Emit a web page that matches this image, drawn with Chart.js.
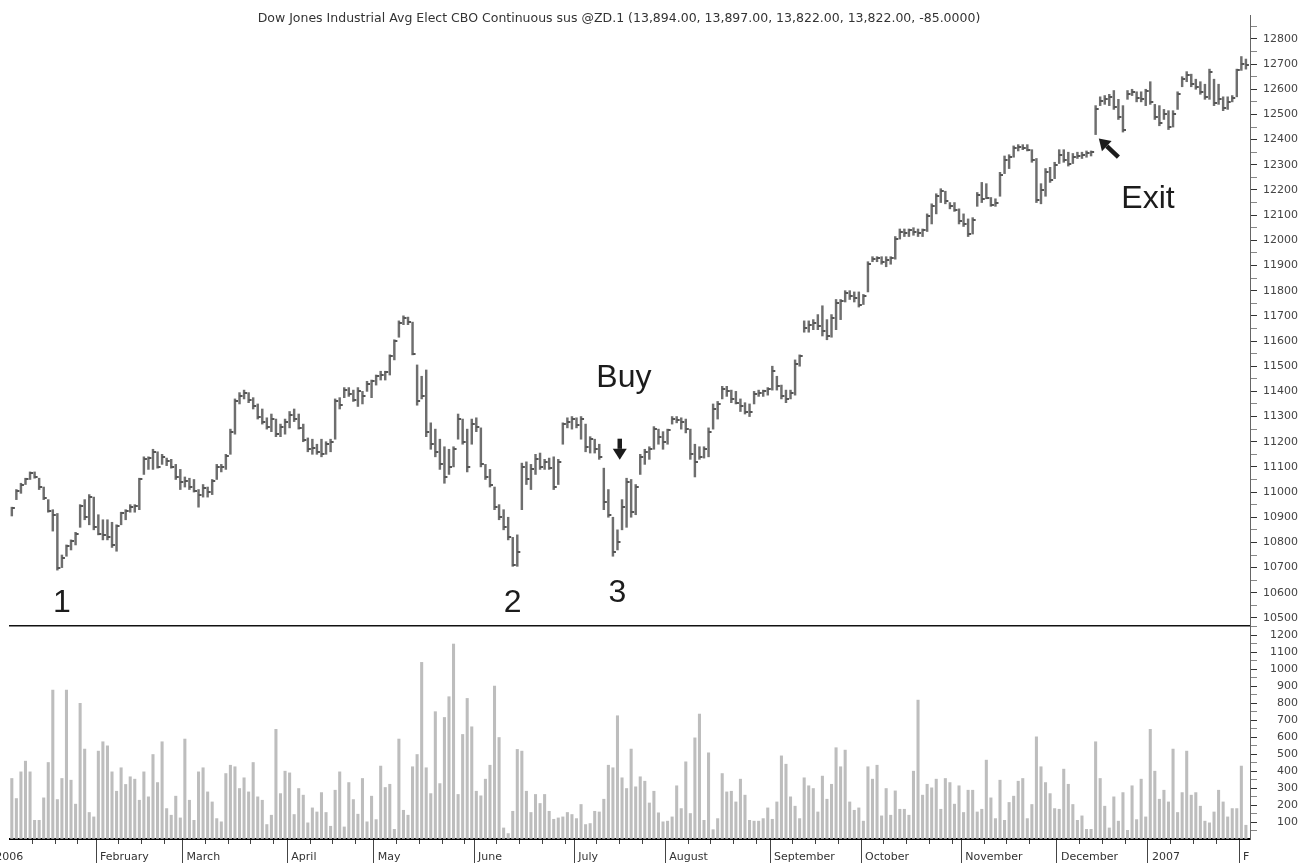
<!DOCTYPE html>
<html>
<head>
<meta charset="utf-8">
<script src="https://cdn.jsdelivr.net/npm/chart.js@4.4.1/dist/chart.umd.min.js"></script>
<style>
  html, body { margin: 0; padding: 0; background: #ffffff; }
  #wrap { position: relative; width: 1311px; height: 864px; overflow: hidden; background: #fff; }
  #title { position: absolute; left: 0; top: 10px; width: 1238px; text-align: center;
           font: 12.5px "DejaVu Sans", sans-serif; color: #333; white-space: nowrap; z-index: 3; }
  #c1 { position: absolute; left: 0; top: 0; }
  #c2 { position: absolute; left: 0; top: 626px; }
</style>
</head>
<body>
<div id="wrap">
  <div id="title">Dow Jones Industrial Avg Elect CBO Continuous sus @ZD.1 (13,894.00, 13,897.00, 13,822.00, 13,822.00, -85.0000)</div>
  <canvas id="c1" width="1311" height="640"></canvas>
  <canvas id="c2" width="1311" height="238"></canvas>
</div>
<script>
// ---------------- DATA (daily bars, 2006-01-04 .. 2007-02-02) ----------------
const highs = [
10940,11010,11035,11055,11080,11080,11055,11020,10970,10930,
10915,10750,10790,10810,10840,10950,10970,10990,10980,10910,
10890,10890,10880,10870,10920,10930,10950,10950,11055,11140,
11140,11170,11160,11150,11135,11130,11110,11090,11060,11055,
11050,11010,11030,11020,11050,11110,11110,11150,11250,11370,
11395,11405,11395,11375,11350,11330,11295,11310,11290,11270,
11290,11320,11330,11310,11270,11215,11210,11190,11210,11200,
11210,11370,11375,11415,11415,11405,11415,11400,11440,11445,
11465,11480,11480,11545,11605,11680,11700,11695,11675,11505,
11460,11485,11275,11250,11210,11180,11170,11180,11310,11290,
11250,11290,11295,11255,11110,11090,11020,10950,10930,10900,
10820,10830,11115,11120,11110,11150,11155,11130,11135,11140,
11130,11275,11295,11300,11295,11300,11270,11220,11210,11190,
11095,11010,10900,10850,10970,11055,11050,11030,11150,11170,
11180,11260,11250,11240,11250,11300,11300,11295,11290,11250,
11190,11180,11180,11255,11350,11360,11420,11420,11405,11400,
11370,11355,11350,11400,11405,11405,11415,11500,11460,11425,
11405,11405,11525,11545,11680,11680,11685,11705,11740,11685,
11705,11765,11765,11800,11800,11795,11795,11785,11915,11935,
11935,11935,11935,11935,12015,12045,12045,12045,12050,12045,
12045,12105,12145,12185,12205,12195,12150,12150,12125,12105,
12085,12090,12190,12230,12225,12170,12165,12270,12335,12340,
12375,12380,12380,12380,12360,12325,12225,12285,12290,12310,
12360,12360,12350,12345,12350,12350,12355,12355,12535,12570,
12575,12580,12595,12560,12535,12595,12600,12590,12590,12600,
12630,12540,12535,12520,12515,12515,12590,12650,12670,12660,
12640,12630,12620,12680,12640,12620,12570,12570,12575,12680,
12730,12720];
const lows = [
10905,10970,10995,11030,11050,11055,11010,10970,10920,10845,
10690,10700,10745,10770,10790,10860,10890,10870,10850,10830,
10810,10810,10780,10765,10870,10890,10920,10920,10930,11070,
11090,11090,11095,11110,11105,11095,11050,11010,11020,11010,
11000,10940,10980,10980,10990,11050,11080,11090,11150,11230,
11350,11370,11355,11330,11290,11270,11250,11240,11220,11220,
11230,11255,11280,11250,11200,11160,11150,11150,11140,11150,
11160,11210,11330,11375,11380,11360,11340,11350,11400,11375,
11425,11445,11445,11465,11525,11615,11665,11665,11545,11345,
11370,11220,11170,11140,11090,11035,11070,11100,11210,11190,
11080,11190,11240,11100,11050,11020,10930,10890,10850,10810,
10705,10705,10930,11030,11010,11070,11090,11090,11090,11010,
11030,11190,11255,11250,11255,11210,11160,11155,11155,11130,
10930,10900,10745,10770,10850,10860,10900,10910,11070,11110,
11130,11170,11190,11170,11190,11270,11275,11250,11235,11130,
11060,11130,11135,11140,11250,11290,11370,11380,11355,11350,
11320,11310,11300,11350,11380,11380,11385,11405,11405,11370,
11355,11370,11385,11500,11635,11635,11645,11645,11620,11605,
11615,11645,11685,11755,11765,11755,11735,11745,11795,11915,
11915,11905,11895,11905,11925,12005,12015,12015,12020,12015,
12015,12035,12065,12105,12150,12145,12125,12115,12065,12055,
12015,12025,12135,12150,12165,12135,12135,12175,12265,12285,
12330,12355,12360,12355,12310,12150,12145,12175,12230,12245,
12305,12310,12295,12305,12325,12325,12330,12335,12420,12535,
12540,12535,12520,12480,12430,12560,12575,12550,12550,12535,
12540,12480,12455,12480,12440,12450,12520,12610,12630,12610,
12600,12580,12560,12560,12535,12540,12515,12520,12550,12570,
12675,12680];
const closes = [
10935,11005,11030,11050,11075,11060,11020,10975,10925,10910,
10700,10740,10785,10805,10835,10945,10900,10980,10860,10835,
10830,10820,10790,10865,10915,10925,10940,10945,11050,11130,
11135,11160,11100,11140,11125,11100,11060,11040,11045,11020,
11005,10990,11015,11000,11045,11100,11100,11145,11240,11360,
11380,11395,11365,11340,11300,11280,11260,11290,11230,11260,
11280,11305,11290,11255,11205,11170,11175,11160,11150,11190,
11200,11360,11345,11405,11390,11365,11400,11380,11430,11440,
11460,11465,11475,11540,11600,11670,11690,11675,11550,11360,
11380,11240,11190,11160,11110,11060,11100,11170,11290,11200,
11100,11270,11260,11110,11060,11030,10940,10900,10860,10820,
10710,10760,11100,11050,11090,11130,11100,11120,11095,11020,
11120,11270,11280,11290,11265,11290,11180,11210,11170,11140,
10960,10910,10760,10800,10940,11040,10920,11020,11140,11160,
11170,11250,11220,11200,11245,11290,11285,11280,11250,11150,
11120,11140,11170,11240,11330,11350,11410,11400,11370,11355,
11340,11320,11320,11390,11395,11400,11410,11480,11420,11380,
11370,11395,11510,11540,11650,11665,11670,11660,11640,11620,
11690,11750,11760,11790,11780,11770,11745,11780,11905,11925,
11930,11915,11920,11930,12005,12035,12030,12040,12035,12030,
12040,12095,12135,12175,12195,12155,12135,12120,12075,12065,
12025,12080,12180,12165,12170,12140,12150,12260,12320,12330,
12365,12370,12365,12360,12320,12160,12200,12270,12240,12300,
12340,12320,12305,12330,12335,12340,12345,12350,12520,12555,
12560,12570,12530,12490,12440,12580,12590,12565,12560,12595,
12550,12490,12465,12500,12450,12500,12580,12640,12655,12620,
12610,12590,12570,12670,12545,12560,12525,12550,12565,12675,
12700,12695];
const volumes = [
356,238,395,458,395,110,110,242,450,876,
232,356,876,346,205,798,529,156,130,517,
572,548,395,281,419,321,366,352,228,395,
248,497,332,572,179,140,252,124,588,228,
110,395,419,277,218,120,101,385,434,425,
297,360,277,450,248,228,85,140,645,267,
399,389,144,297,258,95,183,159,273,156,
75,287,395,71,332,232,146,356,101,252,
114,429,303,322,57,588,169,140,425,497,
1039,419,267,749,326,715,837,1147,262,615,
827,660,281,254,352,434,900,597,65,32,
163,527,517,281,156,262,209,262,163,116,
124,130,156,144,120,203,85,91,163,159,
234,434,419,725,360,297,529,307,
366,340,212,281,154,101,105,130,313,179,
454,150,595,735,110,507,55,120,385,277,
281,218,352,258,110,105,105,120,183,116,
218,489,440,248,193,120,360,313,297,159,
370,234,322,537,425,523,218,169,183,105,
425,352,434,136,297,140,283,175,175,140,
399,817,258,322,301,352,175,356,332,205,
313,156,287,287,159,175,464,242,120,346,
110,215,252,340,356,120,203,601,425,332,
267,179,175,411,322,203,110,136,57,57,
572,356,193,65,248,105,273,51,313,114,
352,130,645,399,234,287,218,529,156,273,
517,258,273,193,105,95,159,287,218,130,
179,179,429,81];
// month labels and index of each month's first bar
const monthLabels = ['2006','February','March','April','May','June','July','August','September','October','November','December','2007','F'];
const monthStart  = [0, 19, 38, 61, 80, 102, 124, 144, 167, 187, 209, 230, 250, 270];
// price and volume tick labels
const priceTickLabels  = [10500,10600,10700,10800,10900,11000,11100,11200,11300,11400,11500,11600,11700,11800,11900,12000,12100,12200,12300,12400,12500,12600,12700,12800];
const volumeTickLabels = [100,200,300,400,500,600,700,800,900,1000,1100,1200];
// chart annotations (text, bar index, price level)
const notes = [
  {text: '1',    idx: 11,    price: 10560},
  {text: '2',    idx: 110,   price: 10560},
  {text: '3',    idx: 133,   price: 10600},
  {text: 'Buy',  idx: 134.4, price: 11452},
  {text: 'Exit', idx: 249.5, price: 12163}
];
const arrows = [
  {from: {idx: 133.5, price: 11212}, to: {idx: 133.5, price: 11128}},
  {from: {idx: 243.0, price: 12330}, to: {idx: 238.7, price: 12404}}
];

// ---------------- BUILD ----------------
const N = highs.length;
const X_MIN = -0.4, X_MAX = 271.9;
const priceSet = new Set(priceTickLabels);
const volSet = new Set(volumeTickLabels);

const hlData = highs.map((h, i) => ({x: i, y: [lows[i], h]}));
const closeData = closes.map((c, i) => ({x: i, y: c}));
const volData = volumes.map((v, i) => ({x: i, y: v}));

// close tick marker (drawn to the right of the bar)
const tick = document.createElement('canvas');
tick.width = 8; tick.height = 2;
(function(){ const g = tick.getContext('2d'); g.fillStyle = '#555'; g.fillRect(4, 0, 3, 2); })();

const FONT_AX = {family: '"DejaVu Sans", sans-serif', size: 11};

function drawArrow(ctx, x1, y1, x2, y2) {
  const a = Math.atan2(y2 - y1, x2 - x1);
  const head = 11, half = 7;
  const bx = x2 - head * Math.cos(a), by = y2 - head * Math.sin(a);
  ctx.beginPath();
  ctx.lineWidth = 4.5; ctx.lineCap = 'butt';
  ctx.moveTo(x1, y1); ctx.lineTo(bx, by); ctx.stroke();
  ctx.beginPath();
  ctx.moveTo(x2, y2);
  ctx.lineTo(bx + half * Math.sin(a), by - half * Math.cos(a));
  ctx.lineTo(bx - half * Math.sin(a), by + half * Math.cos(a));
  ctx.closePath(); ctx.fill();
}

const notesPlugin = {
  id: 'notes',
  afterDatasetsDraw(chart) {
    const {ctx, scales: {x, y}} = chart;
    ctx.save();
    ctx.fillStyle = '#1c1c1c';
    ctx.strokeStyle = '#1c1c1c';
    ctx.font = '32px "Liberation Sans", Arial, sans-serif';
    ctx.textAlign = 'center';
    ctx.textBaseline = 'middle';
    notes.forEach(n => ctx.fillText(n.text, x.getPixelForValue(n.idx), y.getPixelForValue(n.price)));
    arrows.forEach(a => drawArrow(ctx,
      x.getPixelForValue(a.from.idx), y.getPixelForValue(a.from.price),
      x.getPixelForValue(a.to.idx), y.getPixelForValue(a.to.price)));
    ctx.restore();
  }
};

function zeroPad(s) { s.paddingLeft = 0; s.paddingRight = 0; s.paddingTop = 0; s.paddingBottom = 0; }

// ---------- price chart ----------
new Chart(document.getElementById('c1'), {
  type: 'bar',
  data: {
    datasets: [
      {type: 'bar', data: hlData, backgroundColor: '#6e6e6e', barThickness: 1.8, grouped: false, order: 2},
      {type: 'scatter', data: closeData, pointStyle: tick, pointRadius: 2, showLine: false, order: 1}
    ]
  },
  options: {
    responsive: false, animation: false,
    events: [],
    layout: {padding: {left: 10, right: 13, top: 15, bottom: 14}},
    plugins: {legend: {display: false}, tooltip: {enabled: false}},
    scales: {
      x: {
        type: 'linear', min: X_MIN, max: X_MAX, offset: false,
        grid: {display: false, offset: false}, ticks: {display: false},
        border: {display: true, color: '#111', width: 1.5},
        afterFit(s) { s.height = 0; zeroPad(s); }
      },
      y: {
        type: 'linear', position: 'right', min: 10468, max: 12895,
        afterFit(s) { s.width = 48; s.paddingTop = 0; s.paddingBottom = 0; },
        border: {display: true, color: '#666', width: 1},
        grid: {
          drawOnChartArea: false, tickLength: 7, tickWidth: 1,
          tickColor: c => (c.tick && priceSet.has(c.tick.value)) ? '#333' : (c.tick && c.tick.value % 50 === 0 ? '#888' : 'rgba(0,0,0,0)')
        },
        ticks: {
          stepSize: 50, includeBounds: false, autoSkip: false, crossAlign: 'far', padding: 6,
          color: '#444', font: FONT_AX,
          callback: v => priceSet.has(v) ? String(v) : ''
        }
      }
    }
  },
  plugins: [notesPlugin]
});

// ---------- volume chart ----------
const monthTickVals = monthStart.map((s, i) => i === 0 ? s - 4.5 : s - 0.5);
const labelByTick = new Map(monthTickVals.map((v, i) => [v, monthLabels[i]]));
const weekTickVals = [];
monthStart.forEach((s, i) => {
  const e = i + 1 < monthStart.length ? monthStart[i + 1] : N + 1;
  for (let k = 5; s - 0.5 + k < e - 2; k += 5) weekTickVals.push(s - 0.5 + k);
});

new Chart(document.getElementById('c2'), {
  type: 'bar',
  data: {datasets: [{data: volData, backgroundColor: '#bdbdbd', barThickness: 2.4}]},
  options: {
    responsive: false, animation: false,
    events: [],
    layout: {padding: {left: 10, right: 13, top: 0, bottom: 0}},
    plugins: {legend: {display: false}, tooltip: {enabled: false}},
    scales: {
      xw: {
        type: 'linear', position: 'bottom', weight: 0, min: X_MIN, max: X_MAX, offset: false,
        afterBuildTicks(s) { s.ticks = weekTickVals.map(v => ({value: v})); },
        grid: {drawOnChartArea: false, offset: false, tickLength: 5, tickColor: '#444', tickWidth: 1},
        ticks: {display: false},
        border: {display: false},
        afterFit(s) { s.height = 0; zeroPad(s); }
      },
      xm: {
        type: 'linear', position: 'bottom', weight: 0, min: X_MIN, max: X_MAX, offset: false,
        afterBuildTicks(s) { s.ticks = monthTickVals.map(v => ({value: v})); },
        grid: {drawOnChartArea: false, offset: false, tickLength: 24, tickColor: '#444', tickWidth: 1},
        ticks: {display: false},
        border: {display: false},
        afterFit(s) { s.height = 0; zeroPad(s); }
      },
      x: {
        type: 'linear', position: 'bottom', weight: 1, min: X_MIN, max: X_MAX, offset: false,
        afterBuildTicks(s) { s.ticks = monthTickVals.map(v => ({value: v})); },
        grid: {display: false, offset: false},
        border: {display: true, color: '#000', width: 2},
        ticks: {
          autoSkip: false, maxRotation: 0, minRotation: 0, align: 'start', labelOffset: 4, padding: 4,
          color: '#333', font: FONT_AX,
          callback: v => labelByTick.get(v) || ''
        },
        afterFit(s) { s.height = 25; s.paddingLeft = 0; s.paddingRight = 0; }
      },
      y: {
        type: 'linear', position: 'right', min: 0, max: 1253,
        afterFit(s) { s.width = 48; s.paddingTop = 0; s.paddingBottom = 0; },
        border: {display: true, color: '#666', width: 1},
        grid: {
          drawOnChartArea: false, tickLength: 7, tickWidth: 1,
          tickColor: c => (c.tick && volSet.has(c.tick.value)) ? '#333' : (c.tick && c.tick.value % 50 === 0 && c.tick.value > 0 ? '#888' : 'rgba(0,0,0,0)')
        },
        ticks: {
          stepSize: 50, includeBounds: false, autoSkip: false, crossAlign: 'far', padding: 11,
          color: '#444', font: FONT_AX,
          callback: v => volSet.has(v) ? String(v) : ''
        }
      }
    }
  }
});
</script>
</body>
</html>
